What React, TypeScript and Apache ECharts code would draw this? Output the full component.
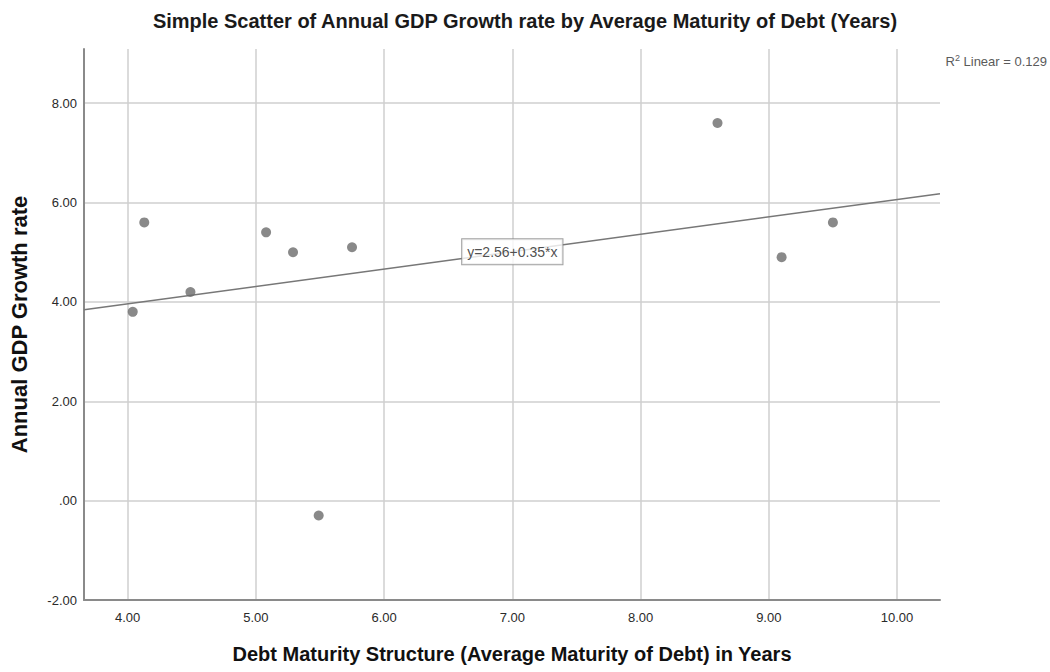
import React, { useEffect, useRef } from "react";
import * as echarts from "echarts";

// Average maturity of debt (years) and annual GDP growth rate (%)
const maturityYears = [4.04, 4.13, 4.49, 5.08, 5.29, 5.49, 5.75, 8.6, 9.1, 9.5];
const gdpGrowth = [3.8, 5.6, 4.2, 5.4, 5.0, -0.3, 5.1, 7.6, 4.9, 5.6];

// Linear fit reported by the regression
const fitIntercept = 2.56;
const fitSlope = 0.35;
const fitLabelX = 7.0;
const rSquared = 0.129;

const xTicks = [4, 5, 6, 7, 8, 9, 10];
const yTicks = [-2, 0, 2, 4, 6, 8];
const xRange = [3.66, 10.335];
const yRange = [-2, 9.09];

const fmt = (v: number) => {
  const s = v.toFixed(2);
  if (s === "0.00") return ".00";
  return s;
};

const FONT = "Liberation Sans, Arial, sans-serif";

export default function App() {
  const ref = useRef<HTMLDivElement>(null);

  useEffect(() => {
    document.body.style.margin = "0";
    if (!ref.current) return;
    const chart = echarts.init(ref.current, null, { renderer: "svg" });

    const points = maturityYears.map((x, i) => [x, gdpGrowth[i]]);
    const fitLine = [
      [xRange[0], fitIntercept + fitSlope * xRange[0]],
      [xRange[1], fitIntercept + fitSlope * xRange[1]],
    ];

    chart.setOption({
      animation: false,
      backgroundColor: "#ffffff",
      textStyle: { fontFamily: FONT },
      title: {
        text: "Simple Scatter of Annual GDP Growth rate by Average Maturity of Debt (Years)",
        left: "center",
        top: 6,
        textStyle: { fontFamily: FONT, fontSize: 20, fontWeight: "bold", color: "#1a1a1a" },
      },
      grid: {
        left: 84,
        right: 110,
        top: 49,
        bottom: 72,
        containLabel: false,
        outerBoundsMode: "none",
      },
      xAxis: {
        type: "value",
        min: xRange[0],
        max: xRange[1],
        name: "Debt Maturity Structure (Average Maturity of Debt) in Years",
        nameLocation: "middle",
        nameGap: 44,
        nameTextStyle: { fontFamily: FONT, fontSize: 20, fontWeight: "bold", color: "#111" },
        axisLine: { show: true, onZero: false, lineStyle: { color: "#8a8a8a", width: 2 } },
        axisTick: { show: false, customValues: xTicks },
        axisLabel: {
          customValues: xTicks,
          formatter: (v: number) => fmt(v),
          fontFamily: FONT,
          fontSize: 13,
          color: "#2a2a2a",
          margin: 11,
        },
        splitLine: { show: true, lineStyle: { color: "#cfcfcf", width: 1.5 } },
      },
      yAxis: {
        type: "value",
        min: yRange[0],
        max: yRange[1],
        name: "Annual GDP Growth rate",
        nameLocation: "middle",
        nameGap: 54,
        nameTextStyle: { fontFamily: FONT, fontSize: 22, fontWeight: "bold", color: "#111" },
        axisLine: { show: true, onZero: false, lineStyle: { color: "#8a8a8a", width: 2 } },
        axisTick: { show: false, customValues: yTicks },
        axisLabel: {
          customValues: yTicks,
          formatter: (v: number) => fmt(v),
          fontFamily: FONT,
          fontSize: 13,
          color: "#2a2a2a",
          margin: 7,
        },
        splitLine: { show: true, lineStyle: { color: "#cfcfcf", width: 1.5 } },
      },
      graphic: [
        {
          type: "text",
          right: 3,
          top: 53,
          style: {
            text: `R{sup|2} Linear = ${rSquared}`,
            fill: "#5a5a5a",
            font: `13px ${FONT}`,
            rich: {
              sup: { fontSize: 9, fill: "#5a5a5a", verticalAlign: "top", padding: [0, 0, 7, 0] },
            },
          },
        },
      ],
      series: [
        {
          type: "line",
          data: fitLine,
          symbol: "none",
          lineStyle: { color: "#777", width: 1.5 },
          silent: true,
          z: 2,
        },
        {
          type: "scatter",
          data: points,
          symbol: "circle",
          symbolSize: 10,
          itemStyle: { color: "#6b6b6b" },
          z: 3,
        },
        {
          type: "scatter",
          data: [[fitLabelX, fitIntercept + fitSlope * fitLabelX]],
          symbolSize: 0,
          z: 4,
          label: {
            show: true,
            position: "inside",
            formatter: `y=${fitIntercept.toFixed(2)}+${fitSlope.toFixed(2)}*x`,
            fontFamily: FONT,
            fontSize: 14,
            color: "#222",
            backgroundColor: "#ffffff",
            borderColor: "#888",
            borderWidth: 1,
            padding: [6, 5, 5, 5],
          },
        },
      ],
    });

    return () => chart.dispose();
  }, []);

  return <div ref={ref} style={{ width: 1050, height: 672 }} />;
}
